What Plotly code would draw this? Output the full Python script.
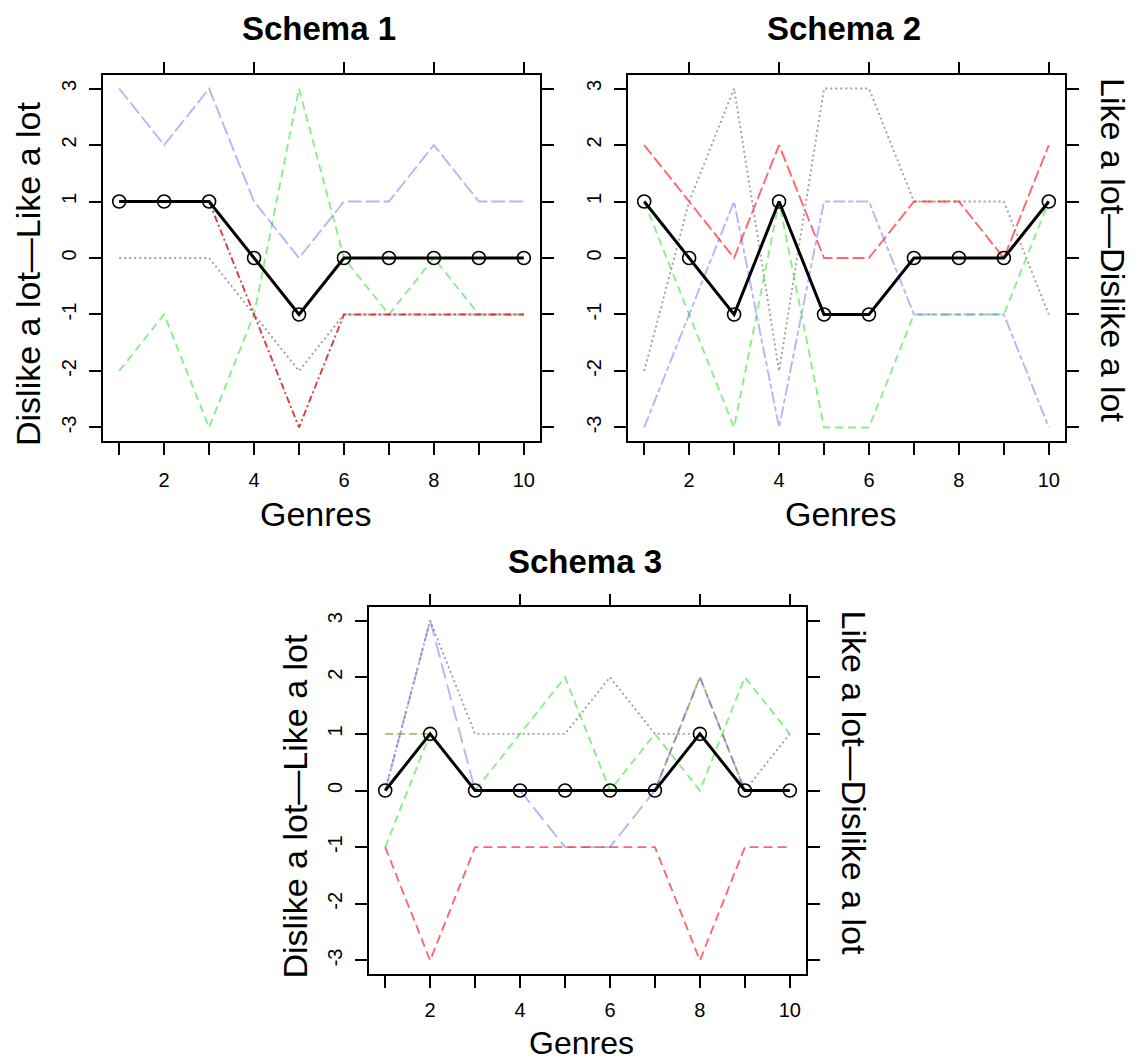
import plotly.graph_objects as go

W, H = 1140, 1063

genres = [1, 2, 3, 4, 5, 6, 7, 8, 9, 10]
x_tick_vals = [1, 2, 3, 4, 5, 6, 7, 8, 9, 10]
x_tick_text = ["", "2", "", "4", "", "6", "", "8", "", "10"]
top_tick_vals = [2, 4, 6, 8, 10]
y_tick_vals = [-3, -2, -1, 0, 1, 2, 3]
y_tick_text = ["-3", "-2", "-1", "0", "1", "2", "3"]

titles = ["Schema 1", "Schema 2", "Schema 3"]
x_title = "Genres"
y_title_left = "Dislike a lot\u2014Like a lot"
y_title_right = "Like a lot\u2014Dislike a lot"

# Schema 1
s1_mean = [1, 1, 1, 0, -1, 0, 0, 0, 0, 0]
s1_red = [1, 1, 1, -1, -3, -1, -1, -1, -1, -1]
s1_green = [-2, -1, -3, -1, 3, 0, -1, 0, -1, -1]
s1_blue = [3, 2, 3, 1, 0, 1, 1, 2, 1, 1]
s1_gray = [0, 0, 0, -1, -2, -1, -1, -1, -1, -1]

# Schema 2
s2_mean = [1, 0, -1, 1, -1, -1, 0, 0, 0, 1]
s2_red = [2, 1, 0, 2, 0, 0, 1, 1, 0, 2]
s2_green = [1, -1, -3, 1, -3, -3, -1, -1, -1, 1]
s2_blue = [-3, -1, 1, -3, 1, 1, -1, -1, -1, -3]
s2_gray = [-2, 1, 3, -2, 3, 3, 1, 1, 1, -1]

# Schema 3
s3_mean = [0, 1, 0, 0, 0, 0, 0, 1, 0, 0]
s3_olive = [1, 1, 0, 0, 0, 0, 0, 2, 0, 0]
s3_red = [-1, -3, -1, -1, -1, -1, -1, -3, -1, -1]
s3_green = [-1, 1, 0, 1, 2, 0, 1, 0, 2, 1]
s3_blue = [0, 3, 0, 0, -1, -1, 0, 2, 0, 0]
s3_gray = [0, 3, 1, 1, 1, 2, 1, 1, 0, 1]

RED = "rgba(255,40,40,0.7)"
RED_DARK = "rgba(215,40,40,0.9)"
GREEN = "rgba(60,225,60,0.6)"
BLUE = "rgba(90,90,255,0.45)"
GRAY = "rgba(110,110,110,0.65)"
OLIVE = "rgba(175,165,70,0.85)"

# pixel boxes (left, right, top, bottom)
boxes = [(103, 540, 75, 441), (628, 1065, 75, 441), (369, 806, 607, 974)]

FONT = "Liberation Sans, Arial, Helvetica, sans-serif"

fig = go.Figure()

panels = [
    [(s1_gray, GRAY, "2px,3px"), (s1_green, GREEN, "8px,5px"),
     (s1_blue, BLUE, "14px,4px"), (s1_red, RED_DARK, "7px,3px,2px,3px")],
    [(s2_gray, GRAY, "2px,3px"), (s2_green, GREEN, "8px,5px"),
     (s2_blue, BLUE, "12px,3px,5px,3px"), (s2_red, RED, "12px,4px")],
    [(s3_olive, OLIVE, "8px,4px"), (s3_gray, GRAY, "2px,3px"), (s3_green, GREEN, "8px,5px"),
     (s3_blue, BLUE, "16px,6px"), (s3_red, RED, "9px,5px")],
]
means = [s1_mean, s2_mean, s3_mean]

for i in range(3):
    xa = "x" if i == 0 else f"x{i+1}"
    ya = "y" if i == 0 else f"y{i+1}"
    for vals, col, dash in panels[i]:
        fig.add_trace(go.Scatter(x=genres, y=vals, mode="lines", xaxis=xa, yaxis=ya,
                                 line=dict(color=col, width=1.9, dash=dash),
                                 showlegend=False, hoverinfo="skip"))
    fig.add_trace(go.Scatter(x=genres, y=means[i], mode="lines+markers", xaxis=xa, yaxis=ya,
                             line=dict(color="black", width=3),
                             marker=dict(symbol="circle-open", size=13, color="black",
                                         line=dict(width=1.6, color="black")),
                             showlegend=False))
    # dummy trace for the top tick axis
    fig.add_trace(go.Scatter(x=[None], y=[None], xaxis=f"x{i+4}", yaxis=ya,
                             showlegend=False, hoverinfo="skip"))

layout = dict(width=W, height=H, margin=dict(l=0, r=0, t=0, b=0),
              plot_bgcolor="white", paper_bgcolor="white",
              font=dict(family=FONT, color="black"), showlegend=False)

annotations = []
for i, (l, r, t, b) in enumerate(boxes):
    n = "" if i == 0 else str(i + 1)
    xd = [l / W, r / W]
    yd = [1 - b / H, 1 - t / H]
    layout[f"xaxis{n}"] = dict(domain=xd, anchor=f"y{n}", range=[0.64, 10.36],
                               tickvals=x_tick_vals, ticktext=x_tick_text,
                               ticks="outside", ticklen=12, tickwidth=1.5, tickcolor="black",
                               showline=True, linewidth=1.5, linecolor="black", mirror=True,
                               showgrid=False, zeroline=False,
                               ticklabelstandoff=8 if i < 2 else 5,
                               tickfont=dict(size=20, family=FONT))
    layout[f"yaxis{n}"] = dict(domain=yd, anchor=f"x{n}", range=[-3.24, 3.24],
                               tickvals=y_tick_vals, ticktext=y_tick_text,
                               ticks="outside", ticklen=12, tickwidth=1.5, tickcolor="black",
                               showline=True, linewidth=1.5, linecolor="black", mirror="ticks",
                               showgrid=False, zeroline=False, tickangle=-90,
                               ticklabelstandoff=5, tickfont=dict(size=20, family=FONT))
    layout[f"xaxis{i+4}"] = dict(overlaying=f"x{n}", anchor=f"y{n}", side="top",
                                 range=[0.64, 10.36], tickvals=top_tick_vals,
                                 showticklabels=False, ticks="outside", ticklen=12,
                                 tickwidth=1.5, tickcolor="black", showline=False,
                                 showgrid=False, zeroline=False)
    cx = (l + r) / 2
    annotations.append(dict(text=f"<b>{titles[i]}</b>", x=(cx - 3) / W, y=1 - (t - 46) / H,
                            xref="paper", yref="paper", showarrow=False,
                            font=dict(size=33, family=FONT), xanchor="center", yanchor="middle"))
    gy = b + 73 if i < 2 else b + 69
    gsize = 34 if i < 2 else 32
    annotations.append(dict(text=x_title, x=(cx - 6) / W, y=1 - gy / H,
                            xref="paper", yref="paper", showarrow=False,
                            font=dict(size=gsize, family=FONT), xanchor="center", yanchor="middle"))
    cy = (t + b) / 2
    if i in (0, 2):
        annotations.append(dict(text=y_title_left, x=(l - 75) / W, y=1 - (cy + 16) / H,
                                xref="paper", yref="paper", showarrow=False, textangle=-90,
                                font=dict(size=34, family=FONT), xanchor="center", yanchor="middle"))
    if i in (1, 2):
        annotations.append(dict(text=y_title_right, x=(r + 48) / W, y=1 - (cy - 8) / H,
                                xref="paper", yref="paper", showarrow=False, textangle=90,
                                font=dict(size=34, family=FONT), xanchor="center", yanchor="middle"))

layout["annotations"] = annotations
fig.update_layout(**layout)
fig.write_html("out.html", config={"displayModeBar": False},
               post_script="document.body.style.margin='0px';document.body.style.overflow='hidden';")
